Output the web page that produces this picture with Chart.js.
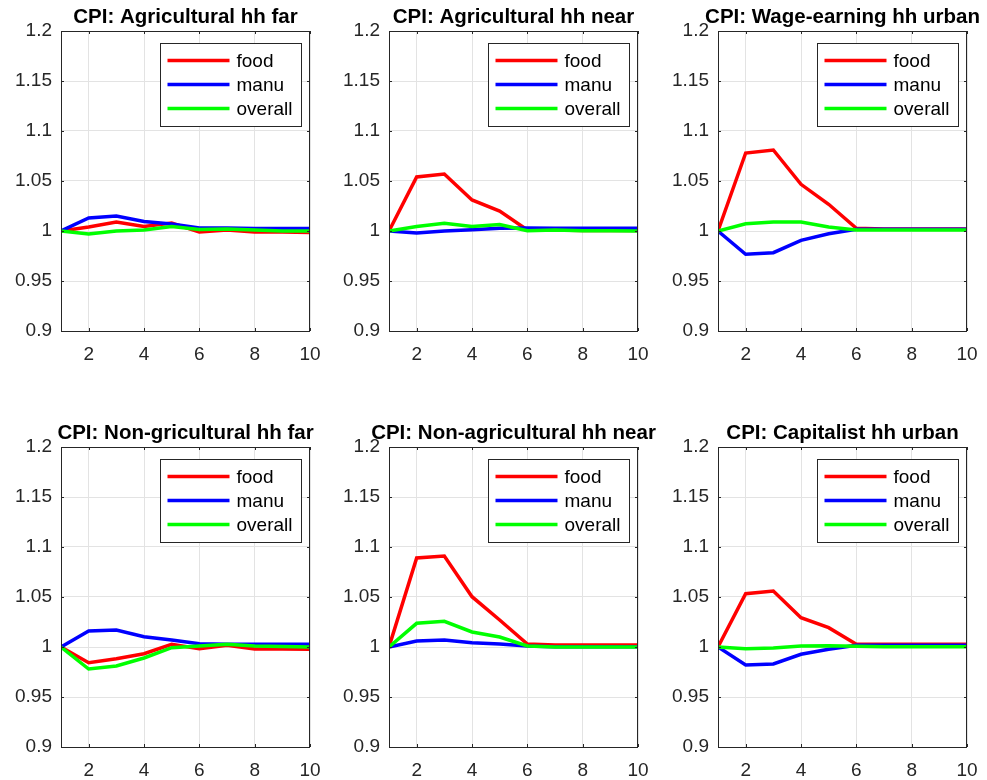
<!DOCTYPE html>
<html>
<head>
<meta charset="utf-8">
<script src="https://cdn.jsdelivr.net/npm/chart.js@4.4.1/dist/chart.umd.min.js"></script>
<style>
  html, body { margin: 0; padding: 0; background: #ffffff; }
  #wrap { position: relative; width: 987px; height: 780px; overflow: hidden; background: #ffffff; }
  canvas { position: absolute; }
</style>
</head>
<body>
<div id="wrap"></div>
<script>
// ---------------- data ----------------
const periods = [1, 2, 3, 4, 5, 6, 7, 8, 9, 10];
const seriesNames = ['food', 'manu', 'overall'];
const panelTitles = [
  'CPI: Agricultural hh far',
  'CPI: Agricultural hh near',
  'CPI: Wage-earning hh urban',
  'CPI: Non-gricultural hh far',
  'CPI: Non-agricultural hh near',
  'CPI: Capitalist hh urban'
];
const xTickValues = [2, 4, 6, 8, 10];
const xTickLabels = ['2', '4', '6', '8', '10'];
const yTickValues = [0.9, 0.95, 1, 1.05, 1.1, 1.15, 1.2];
const yTickLabels = ['0.9', '0.95', '1', '1.05', '1.1', '1.15', '1.2'];

const agriFarFood    = [1.000, 1.004, 1.009, 1.0045, 1.008, 0.999, 1.001, 0.999, 0.999, 0.9985];
const agriFarManu    = [1.000, 1.013, 1.015, 1.0095, 1.007, 1.003, 1.003, 1.0025, 1.0025, 1.0025];
const agriFarOverall = [1.000, 0.997, 1.000, 1.001, 1.0045, 1.0015, 1.002, 1.001, 1.000, 1.000];

const agriNearFood    = [1.000, 1.054, 1.057, 1.031, 1.020, 1.001, 1.001, 1.0005, 1.0005, 1.0005];
const agriNearManu    = [1.000, 0.998, 1.000, 1.0013, 1.0027, 1.003, 1.0027, 1.0027, 1.0027, 1.0027];
const agriNearOverall = [1.000, 1.0044, 1.0078, 1.0044, 1.0064, 1.0003, 1.001, 1.0003, 1.0003, 1.000];

const wageUrbanFood    = [1.000, 1.078, 1.081, 1.0467, 1.0267, 1.0027, 1.002, 1.002, 1.002, 1.002];
const wageUrbanManu    = [1.000, 0.9767, 0.9783, 0.9907, 0.9973, 1.0017, 1.0017, 1.0017, 1.0017, 1.0017];
const wageUrbanOverall = [1.000, 1.0073, 1.009, 1.009, 1.004, 1.001, 1.001, 1.001, 1.001, 1.001];

const nonAgriFarFood    = [1.000, 0.9843, 0.9883, 0.9933, 1.0027, 0.9983, 1.0017, 0.998, 0.998, 0.9977];
const nonAgriFarManu    = [1.000, 1.016, 1.017, 1.0103, 1.007, 1.0033, 1.0027, 1.0027, 1.0027, 1.0027];
const nonAgriFarOverall = [1.000, 0.978, 0.981, 0.989, 0.9993, 1.001, 1.0027, 1.001, 1.0005, 1.000];

const nonAgriNearFood    = [1.000, 1.089, 1.091, 1.0503, 1.027, 1.003, 1.002, 1.002, 1.002, 1.002];
const nonAgriNearManu    = [1.000, 1.006, 1.007, 1.0043, 1.003, 1.001, 1.0003, 1.0003, 1.0003, 1.0003];
const nonAgriNearOverall = [1.000, 1.0237, 1.0257, 1.015, 1.010, 1.001, 1.000, 1.000, 1.000, 1.000];

const capUrbanFood    = [1.000, 1.0533, 1.056, 1.0293, 1.0193, 1.0027, 1.0027, 1.0027, 1.0027, 1.0027];
const capUrbanManu    = [1.000, 0.982, 0.983, 0.9927, 0.9977, 1.0017, 1.0017, 1.0017, 1.0017, 1.0017];
const capUrbanOverall = [1.000, 0.9983, 0.999, 1.001, 1.0013, 1.0007, 1.0003, 1.0003, 1.0003, 1.0003];

const panelSeries = [
  [agriFarFood, agriFarManu, agriFarOverall],
  [agriNearFood, agriNearManu, agriNearOverall],
  [wageUrbanFood, wageUrbanManu, wageUrbanOverall],
  [nonAgriFarFood, nonAgriFarManu, nonAgriFarOverall],
  [nonAgriNearFood, nonAgriNearManu, nonAgriNearOverall],
  [capUrbanFood, capUrbanManu, capUrbanOverall]
];

// ---------------- styling / layout ----------------
const seriesColors = ['#ff0000', '#0000ff', '#00ff00'];
const FONT = '"Liberation Sans", Arial, Helvetica, sans-serif';
const CANVAS_W = 329, CANVAS_H = 364;
const canvasLefts = [0, 328, 657];
const canvasTops = [0, 416];

const matlabDecor = {
  id: 'matlabDecor',
  afterDatasetsDraw(chart) {
    const ctx = chart.ctx;
    const a = chart.chartArea;
    const xs = chart.scales.x, ys = chart.scales.y;
    ctx.save();
    // box
    ctx.strokeStyle = '#262626';
    ctx.lineWidth = 1;
    ctx.strokeRect(Math.round(a.left) + 0.5, Math.round(a.top) + 0.5,
                   Math.round(a.right - a.left) - 1, Math.round(a.bottom - a.top));
    // inward tick marks
    ctx.beginPath();
    xTickValues.forEach(v => {
      const px = Math.round(xs.getPixelForValue(v)) + 0.5;
      ctx.moveTo(px, a.bottom); ctx.lineTo(px, a.bottom - 3);
      ctx.moveTo(px, a.top); ctx.lineTo(px, a.top + 3);
    });
    yTickValues.forEach(v => {
      const py = Math.round(ys.getPixelForValue(v)) + 0.5;
      ctx.moveTo(a.left, py); ctx.lineTo(a.left + 3, py);
      ctx.moveTo(a.right, py); ctx.lineTo(a.right - 3, py);
    });
    ctx.stroke();

    // legend
    const bx = Math.round(a.right - 150) + 0.5, by = Math.round(a.top + 12) + 0.5;
    const bw = 141, bh = 83;
    ctx.fillStyle = '#ffffff';
    ctx.fillRect(bx, by, bw, bh);
    ctx.strokeStyle = '#262626';
    ctx.lineWidth = 1;
    ctx.strokeRect(bx, by, bw, bh);
    ctx.font = '19px ' + FONT;
    ctx.textBaseline = 'middle';
    ctx.textAlign = 'left';
    chart.data.datasets.forEach((ds, i) => {
      const ry = by + 17 + i * 24;
      ctx.strokeStyle = ds.borderColor;
      ctx.lineWidth = 3.5;
      ctx.beginPath();
      ctx.moveTo(bx + 7, ry); ctx.lineTo(bx + 69, ry);
      ctx.stroke();
      ctx.fillStyle = '#000000';
      ctx.fillText(ds.label, bx + 76, ry + 1);
    });

    // title
    ctx.font = 'bold 20.5px ' + FONT;
    ctx.fillStyle = '#000000';
    ctx.textAlign = 'center';
    ctx.textBaseline = 'alphabetic';
    ctx.fillText(chart.options.plugins.panelTitle.text, (a.left + a.right) / 2, a.top - 8);
    ctx.restore();
  }
};

const wrap = document.getElementById('wrap');
panelTitles.forEach((title, p) => {
  const cv = document.createElement('canvas');
  cv.width = CANVAS_W; cv.height = CANVAS_H;
  cv.style.width = CANVAS_W + 'px'; cv.style.height = CANVAS_H + 'px';
  cv.style.left = canvasLefts[p % 3] + 'px';
  cv.style.top = canvasTops[Math.floor(p / 3)] + 'px';
  wrap.appendChild(cv);

  const datasets = panelSeries[p].map((vals, i) => ({
    label: seriesNames[i],
    data: periods.map((x, k) => ({ x: x, y: vals[k] })),
    borderColor: seriesColors[i],
    backgroundColor: seriesColors[i],
    borderWidth: 3.5,
    pointRadius: 0,
    tension: 0,
    fill: false,
    order: 3 - i,
    borderJoinStyle: 'miter'
  }));

  new Chart(cv, {
    type: 'line',
    data: { datasets },
    options: {
      responsive: false,
      animation: false,
      devicePixelRatio: 1,
      layout: { padding: { left: 0, top: 31, right: 19, bottom: 3 } },
      plugins: {
        legend: { display: false },
        title: { display: false },
        tooltip: { enabled: false },
        panelTitle: { text: title }
      },
      scales: {
        x: {
          type: 'linear',
          min: 1, max: 10,
          afterBuildTicks: s => { s.ticks = xTickValues.map(v => ({ value: v })); },
          afterFit: s => { s.height = 30; s.paddingLeft = 0; s.paddingRight = 0; },
          grid: { color: '#e3e3e3', drawTicks: false, lineWidth: 1 },
          border: { display: false },
          ticks: {
            padding: 12,
            color: '#262626',
            font: { family: FONT, size: 19 },
            maxRotation: 0,
            autoSkip: false,
            callback: (v, i) => xTickLabels[i]
          }
        },
        y: {
          type: 'linear',
          min: 0.9, max: 1.2,
          afterBuildTicks: s => { s.ticks = yTickValues.map(v => ({ value: v })); },
          afterFit: s => { s.width = 61; s.paddingTop = 0; s.paddingBottom = 0; },
          grid: { color: '#e3e3e3', drawTicks: false, lineWidth: 1 },
          border: { display: false },
          ticks: {
            padding: 9,
            color: '#262626',
            font: { family: FONT, size: 19 },
            autoSkip: false,
            callback: (v, i) => yTickLabels[i]
          }
        }
      }
    },
    plugins: [matlabDecor]
  });
});
</script>
</body>
</html>
